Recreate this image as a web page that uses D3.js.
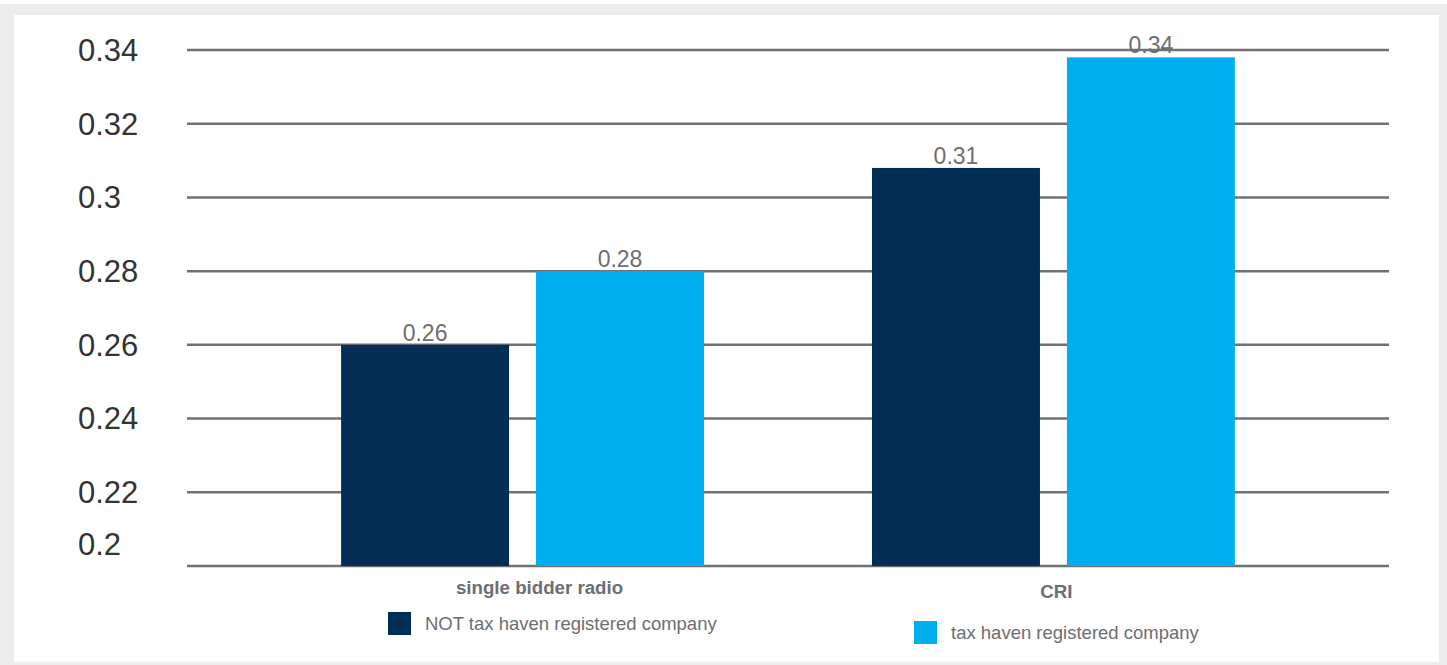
<!DOCTYPE html>
<html>
<head>
<meta charset="utf-8">
<script src="https://cdn.jsdelivr.net/npm/d3@7"></script>
<style>
  body { margin: 0; background: #fff; }
  svg { display: block; font-family: "Liberation Sans", Arial, sans-serif; }
</style>
</head>
<body>
<div id="chart"></div>
<script>
// data
var categories = ["single bidder radio", "CRI"];
var seriesNames = ["NOT tax haven registered company", "tax haven registered company"];
var notTaxHaven = [0.26, 0.308];
var taxHaven = [0.28, 0.338];
var yTicks = [0.2, 0.22, 0.24, 0.26, 0.28, 0.3, 0.32, 0.34];
var colors = ["#022d54", "#00aeef"];

var svgWidth = 1447;
var svgHeight = 665;

var svg = d3.select("#chart").append("svg")
  .attr("width", svgWidth)
  .attr("height", svgHeight);

// grey frame + white panel
svg.append("rect")
  .attr("x", 0).attr("y", 4)
  .attr("width", svgWidth).attr("height", svgHeight - 4)
  .attr("fill", "#ececec");
svg.append("rect")
  .attr("x", 14).attr("y", 15)
  .attr("width", 1425).attr("height", 647)
  .attr("fill", "#fff");

var plotLeft = 187, plotRight = 1389;

var yScale = d3.scaleLinear()
  .domain([0.2, 0.34])
  .range([566, 50]);

var x0 = d3.scaleBand()
  .domain(categories)
  .range([plotLeft, plotRight])
  .paddingInner(0)
  .paddingOuter(0.132);

var x1 = d3.scaleBand()
  .domain([0, 1])
  .range([0, x0.bandwidth()])
  .paddingInner(0.1385)
  .paddingOuter(0.431);

// gridlines
svg.append("g")
  .selectAll("line")
  .data(yTicks)
  .enter()
  .append("line")
  .attr("x1", plotLeft)
  .attr("x2", plotRight)
  .attr("y1", d => yScale(d))
  .attr("y2", d => yScale(d))
  .attr("stroke", "#6f7174")
  .attr("stroke-width", 2.5);

// y axis labels
svg.append("g")
  .selectAll("text")
  .data(yTicks)
  .enter()
  .append("text")
  .attr("x", 78)
  .attr("y", d => yScale(d))
  .attr("dy", (d, i) => i === 0 ? "-0.35em" : "0.35em")
  .attr("font-size", 31)
  .attr("fill", "#333")
  .text(d => d);

var rows = [];
categories.forEach(function (c, i) {
  rows.push({ cat: c, s: 0, v: notTaxHaven[i] });
  rows.push({ cat: c, s: 1, v: taxHaven[i] });
});

var bars = svg.append("g");
bars.selectAll("rect")
  .data(rows)
  .enter()
  .append("rect")
  .attr("x", d => x0(d.cat) + x1(d.s))
  .attr("y", d => yScale(d.v))
  .attr("width", x1.bandwidth())
  .attr("height", d => yScale(0.2) - yScale(d.v))
  .attr("fill", d => colors[d.s]);

bars.selectAll("text")
  .data(rows)
  .enter()
  .append("text")
  .attr("x", d => x0(d.cat) + x1(d.s) + x1.bandwidth() / 2)
  .attr("y", d => yScale(d.v) - 4)
  .attr("text-anchor", "middle")
  .attr("font-size", 23)
  .attr("fill", "#6d6e71")
  .text(d => d3.format(".2f")(d.v));

// category labels
svg.append("g")
  .selectAll("text")
  .data(categories)
  .enter()
  .append("text")
  .attr("x", d => x0(d) + x0.bandwidth() / 2)
  .attr("dx", (d, i) => i === 0 ? 17 : 3)
  .attr("y", (d, i) => i === 0 ? 594 : 598)
  .attr("text-anchor", "middle")
  .attr("font-size", 18.7)
  .attr("font-weight", "bold")
  .attr("fill", "#6d6e71")
  .text(d => d);

// legend
var legendPos = [[388, 612], [914, 621]];
var legend = svg.append("g")
  .selectAll("g")
  .data(seriesNames)
  .enter()
  .append("g")
  .attr("transform", (d, i) => `translate(${legendPos[i][0]}, ${legendPos[i][1]})`);

legend.append("rect")
  .attr("width", 23)
  .attr("height", 23)
  .attr("fill", (d, i) => colors[i]);

legend.append("text")
  .attr("x", 37)
  .attr("y", 12)
  .attr("dy", "0.35em")
  .attr("font-size", 18.5)
  .attr("fill", "#6d6e71")
  .text(d => d);
</script>
</body>
</html>
